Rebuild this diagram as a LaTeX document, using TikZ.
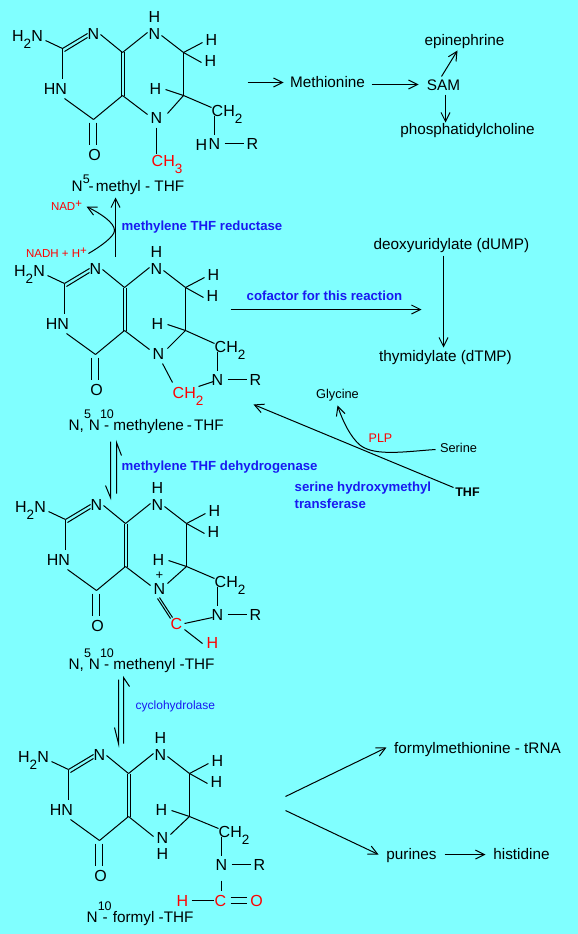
\documentclass[tikz,border=0pt]{standalone}
\usepackage{fontspec}
\setmainfont{Liberation Sans}
\usetikzlibrary{arrows.meta}
\definecolor{bgc}{RGB}{128,255,255}
\definecolor{enz}{RGB}{25,25,240}
\newcommand{\fs}[1]{\fontsize{#1}{#1}\selectfont}
\newcommand{\lo}[1]{\smash{\raisebox{-7.5pt}{\fs{13.5}#1}}}
\newcommand{\hi}[2][12.5pt]{\smash{\raisebox{#1}{\fs{12.5}#2}}}
\tikzset{
  atom/.style={inner sep=0pt,font=\fs{16}},
  redatom/.style={atom,text=red},
  lab/.style={inner sep=0pt,anchor=base,font=\fs{15.3}},
  molname/.style={inner sep=0pt,anchor=base west,font=\fs{15.3}},
  smalltxt/.style={inner sep=0pt,anchor=base,font=\fs{12.8}},
  enzyme/.style={inner sep=0pt,anchor=west,text=enz,font=\fs{13.2}\bfseries},
  bond/.style={line width=1pt},
  rxn/.style={line width=1pt,-{Straight Barb[length=9pt,width=9pt,line width=1pt]}},
  harpoon/.style={line width=1pt,line join=miter},
}
% common skeleton of the pterin
\newcommand{\pterin}[3]{%
 \begin{scope}[shift={(#2,#3)}]
  \coordinate (#1c2) at (62,48);
  \coordinate (#1c8a) at (122,52);
  \coordinate (#1c4a) at (122,95);
  \coordinate (#1c4) at (93,119);
  \coordinate (#1c7) at (183,52);
  \coordinate (#1c6) at (183,95);
  \node[atom] (#1nh2) at (27,35) {H\lo{2}N};
  \node[atom] (#1n1) at (93,33) {N};
  \node[atom] (#1n8) at (154,33) {N};
  \node[atom] (#1h8) at (154,16) {H};
  \node[atom] (#1h7a) at (211,39) {H};
  \node[atom] (#1h7b) at (210,60) {H};
  \node[atom] (#1h6) at (155,88) {H};
  \node[atom] (#1n3) at (55,88) {HN};
  \node[atom] (#1o) at (94,154) {O};
  \draw[bond] (45,40) -- (#1c2);
  \draw[bond] (#1c2) -- (#1n1.west);
  \draw[bond] ([shift={(2,3)}]#1c2) -- ([shift={(-6,4)}]#1n1.center);
  \draw[bond] (100,34) -- (#1c8a);
  \draw[bond] (#1c8a) -- ([shift={(-7,-1)}]#1n8.center);
  \draw[bond] ([xshift=-1]#1c8a) -- ([xshift=-1]#1c4a);
  \draw[bond] ([xshift=2]#1c8a) -- ([xshift=2]#1c4a);
  \draw[bond] (#1c2) -- (62,78);
  \draw[bond] (64,98) -- (#1c4);
  \draw[bond] (#1c4) -- (#1c4a);
  \draw[bond] ([shift={(-4,3)}]#1c4) -- (89,144);
  \draw[bond] ([shift={(3,3)}]#1c4) -- (96,144);
  \draw[bond] (161,35) -- (#1c7);
  \draw[bond] (#1c7) -- (#1c6);
  \draw[bond] (#1c7) -- (202,42);
  \draw[bond] (#1c7) -- (201,62);
  \draw[bond] (165,89) -- (#1c6);
 \end{scope}}
\newcommand{\sidechain}[3]{%
 \begin{scope}[shift={(#2,#3)}]
  \node[atom,anchor=west] (#1ch2) at (211,110) {CH\lo{2}};
  \node[atom] (#1n10) at (214,143) {N};
  \node[atom] (#1r) at (252,143) {R};
  \draw[bond] (#1c6) -- (211,107);
  \draw[bond] (214,115) -- (214,134);
  \draw[bond] (224,143) -- (243,143);
 \end{scope}}
\begin{document}
\begin{tikzpicture}[x=1pt,y=-1pt]
\useasboundingbox[fill=bgc] (0,0) rectangle (578,934);
\begin{scope}[shift={(0.5,0.5)}]

% ---------- N5-methyl
\pterin{a}{0}{0}
\sidechain{a}{0}{0}
\node[atom] (ahn) at (201,144) {H};
\node[atom] (an5) at (156,117) {N};
\node[redatom,anchor=west] (ach3) at (151,160) {CH\lo{3}};
\draw[bond] (ac4a) -- (147,114);
\draw[bond] (167,113) -- (ac6);
\draw[bond] (156,127) -- (156,153);
\node[molname] (aname) at (71,191) {N\hi[8pt]{5}\kern-1pt-\kern2pt methyl - THF};

% ---------- N5,N10-methylene
\pterin{b}{2}{235}
\sidechain{b}{3}{236}
\node[atom] (bn5) at (158,353) {N};
\node[redatom,anchor=west] (bch2) at (172,392) {CH\lo{2}};
\draw[bond] (bc4a) -- (149,349);
\draw[bond] (167,348) -- (bc6);
\draw[bond] (162,363) -- (172,382);
\draw[bond] (198,386) -- (213,381);
\node[molname] (bname) at (68,430) {N,\hi{5}\kern-2ptN\rlap{\hi{10}}\kern4pt- methylene\kern3pt-\kern2pt THF};

% ---------- methenyl
\pterin{c}{3}{471}
\sidechain{c}{3}{471}
\node[atom] (cn5) at (159,588) {N};
\node[atom,font=\fs{13}] (cplus) at (159,575) {+};
\node[redatom] (cc) at (176,623) {C};
\node[redatom] (ch) at (212,642) {H};
\draw[bond] (cc4a) -- (150,585);
\draw[bond] (167,583) -- (cc6);
\draw[bond] (159,597) -- (172,617);
\draw[bond] (157,598) -- (170,618);
\draw[bond] (184,623) -- (212,617);
\draw[bond] (184,629) -- (202,643);
\node[molname] (cname) at (68,669) {N,\hi{5}\kern-2ptN\rlap{\hi{10}}\kern4pt- methenyl -THF};

% ---------- formyl
\pterin{d}{6}{721}
\sidechain{d}{7}{721}
\node[atom] (dn5) at (162,837) {N};
\node[atom] (dh5) at (162,853) {H};
\node[redatom] (dh) at (182,900) {H};
\node[redatom] (dc) at (220,900) {C};
\node[redatom] (dO) at (256,900) {O};
\draw[bond] (dc4a) -- (153,836);
\draw[bond] (170,834) -- (dc6);
\draw[bond] (221,880) -- (221,890);
\draw[bond] (191,900) -- (213,900);
\draw[bond] (230,897) -- (246,897);
\draw[bond] (230,903) -- (246,903);
\node[molname] (dname) at (86,922) {N\rlap{\hi{10}}\kern5pt-\kern5pt formyl -THF};

% ---------- top right
\node[lab] (met) at (327,87) {Methionine};
\node[lab] (sam) at (443,90) {SAM};
\node[lab] (epi) at (464,45) {epinephrine};
\node[lab] (pc) at (467,134) {phosphatidylcholine};
\coordinate (a0) at (247,82);
\draw[rxn] (a0) -- (283,82);
\draw[rxn] (371,84) -- (418,84);
\draw[rxn] (441,76) -- (457,50);
\draw[rxn] (445,94) -- (445,122);

% ---------- middle right
\node[lab] (dump) at (451,249) {deoxyuridylate (dUMP)};
\node[lab] (dtmp) at (445,361) {thymidylate (dTMP)};
\draw[rxn] (443,255) -- (443,347);
\draw[rxn] (230,309) -- (421,309);
\node[enzyme] (cof) at (246,295) {cofactor for this reaction};

\node[atom,font=\fs{12.5}\bfseries] (thf) at (467,492) {THF};
\node[smalltxt] (gly) at (337,398) {Glycine};
\node[smalltxt] (ser) at (458,452) {Serine};
\node[inner sep=0pt,text=red,font=\fs{12.5}] (plp) at (380,438) {PLP};
\coordinate (t0) at (453,487);
\coordinate (t1) at (253,404);
\draw[rxn] (t0) -- (t1);
\draw[rxn] (435,449) .. controls (405,451) and (375,456) .. (360,445) .. controls (350,437) and (342,420) .. (337,405);
\node[enzyme] (sht1) at (294,488) {serine hydroxymethyl};
\node[enzyme] (sht2) at (294,503) {transferase};

% ---------- enzymes, left column
\node[enzyme] (mr) at (121,227) {methylene THF reductase};
\node[enzyme] (md) at (121,467) {methylene THF dehydrogenase};
\node[inner sep=0pt,anchor=west,text=enz,font=\fs{12}] (cy) at (135,706) {cyclohydrolase};
\draw[rxn] (115,256) -- (115,197);
\node[inner sep=0pt,text=red,font=\fs{11.5}] (nad) at (66,205) {NAD\raisebox{3pt}{+}};
\node[inner sep=0pt,text=red,font=\fs{11.5}] (nadh) at (56,252) {NADH + H\raisebox{3pt}{+}};
\draw[rxn] (88,253) .. controls (100,246) and (114,236) .. (114,230) .. controls (114,222) and (100,213) .. (86,206);

\draw[harpoon] (110,441) -- (110,497) -- (105,485);
\draw[harpoon] (116,493) -- (116,442) -- (121,455);
\draw[harpoon] (118,679) -- (118,743) -- (114,727);
\draw[harpoon] (123,743) -- (123,677) -- (129,686);

% ---------- bottom right
\node[lab] (fm) at (477,753) {formylmethionine - tRNA};
\node[lab] (pur) at (411,859) {purines};
\node[lab] (his) at (521,859) {histidine};
\draw[rxn] (285,796) -- (386,747);
\draw[rxn] (285,810) -- (378,854);
\draw[rxn] (444,854) -- (485,854);
\end{scope}
\end{tikzpicture}
\end{document}
